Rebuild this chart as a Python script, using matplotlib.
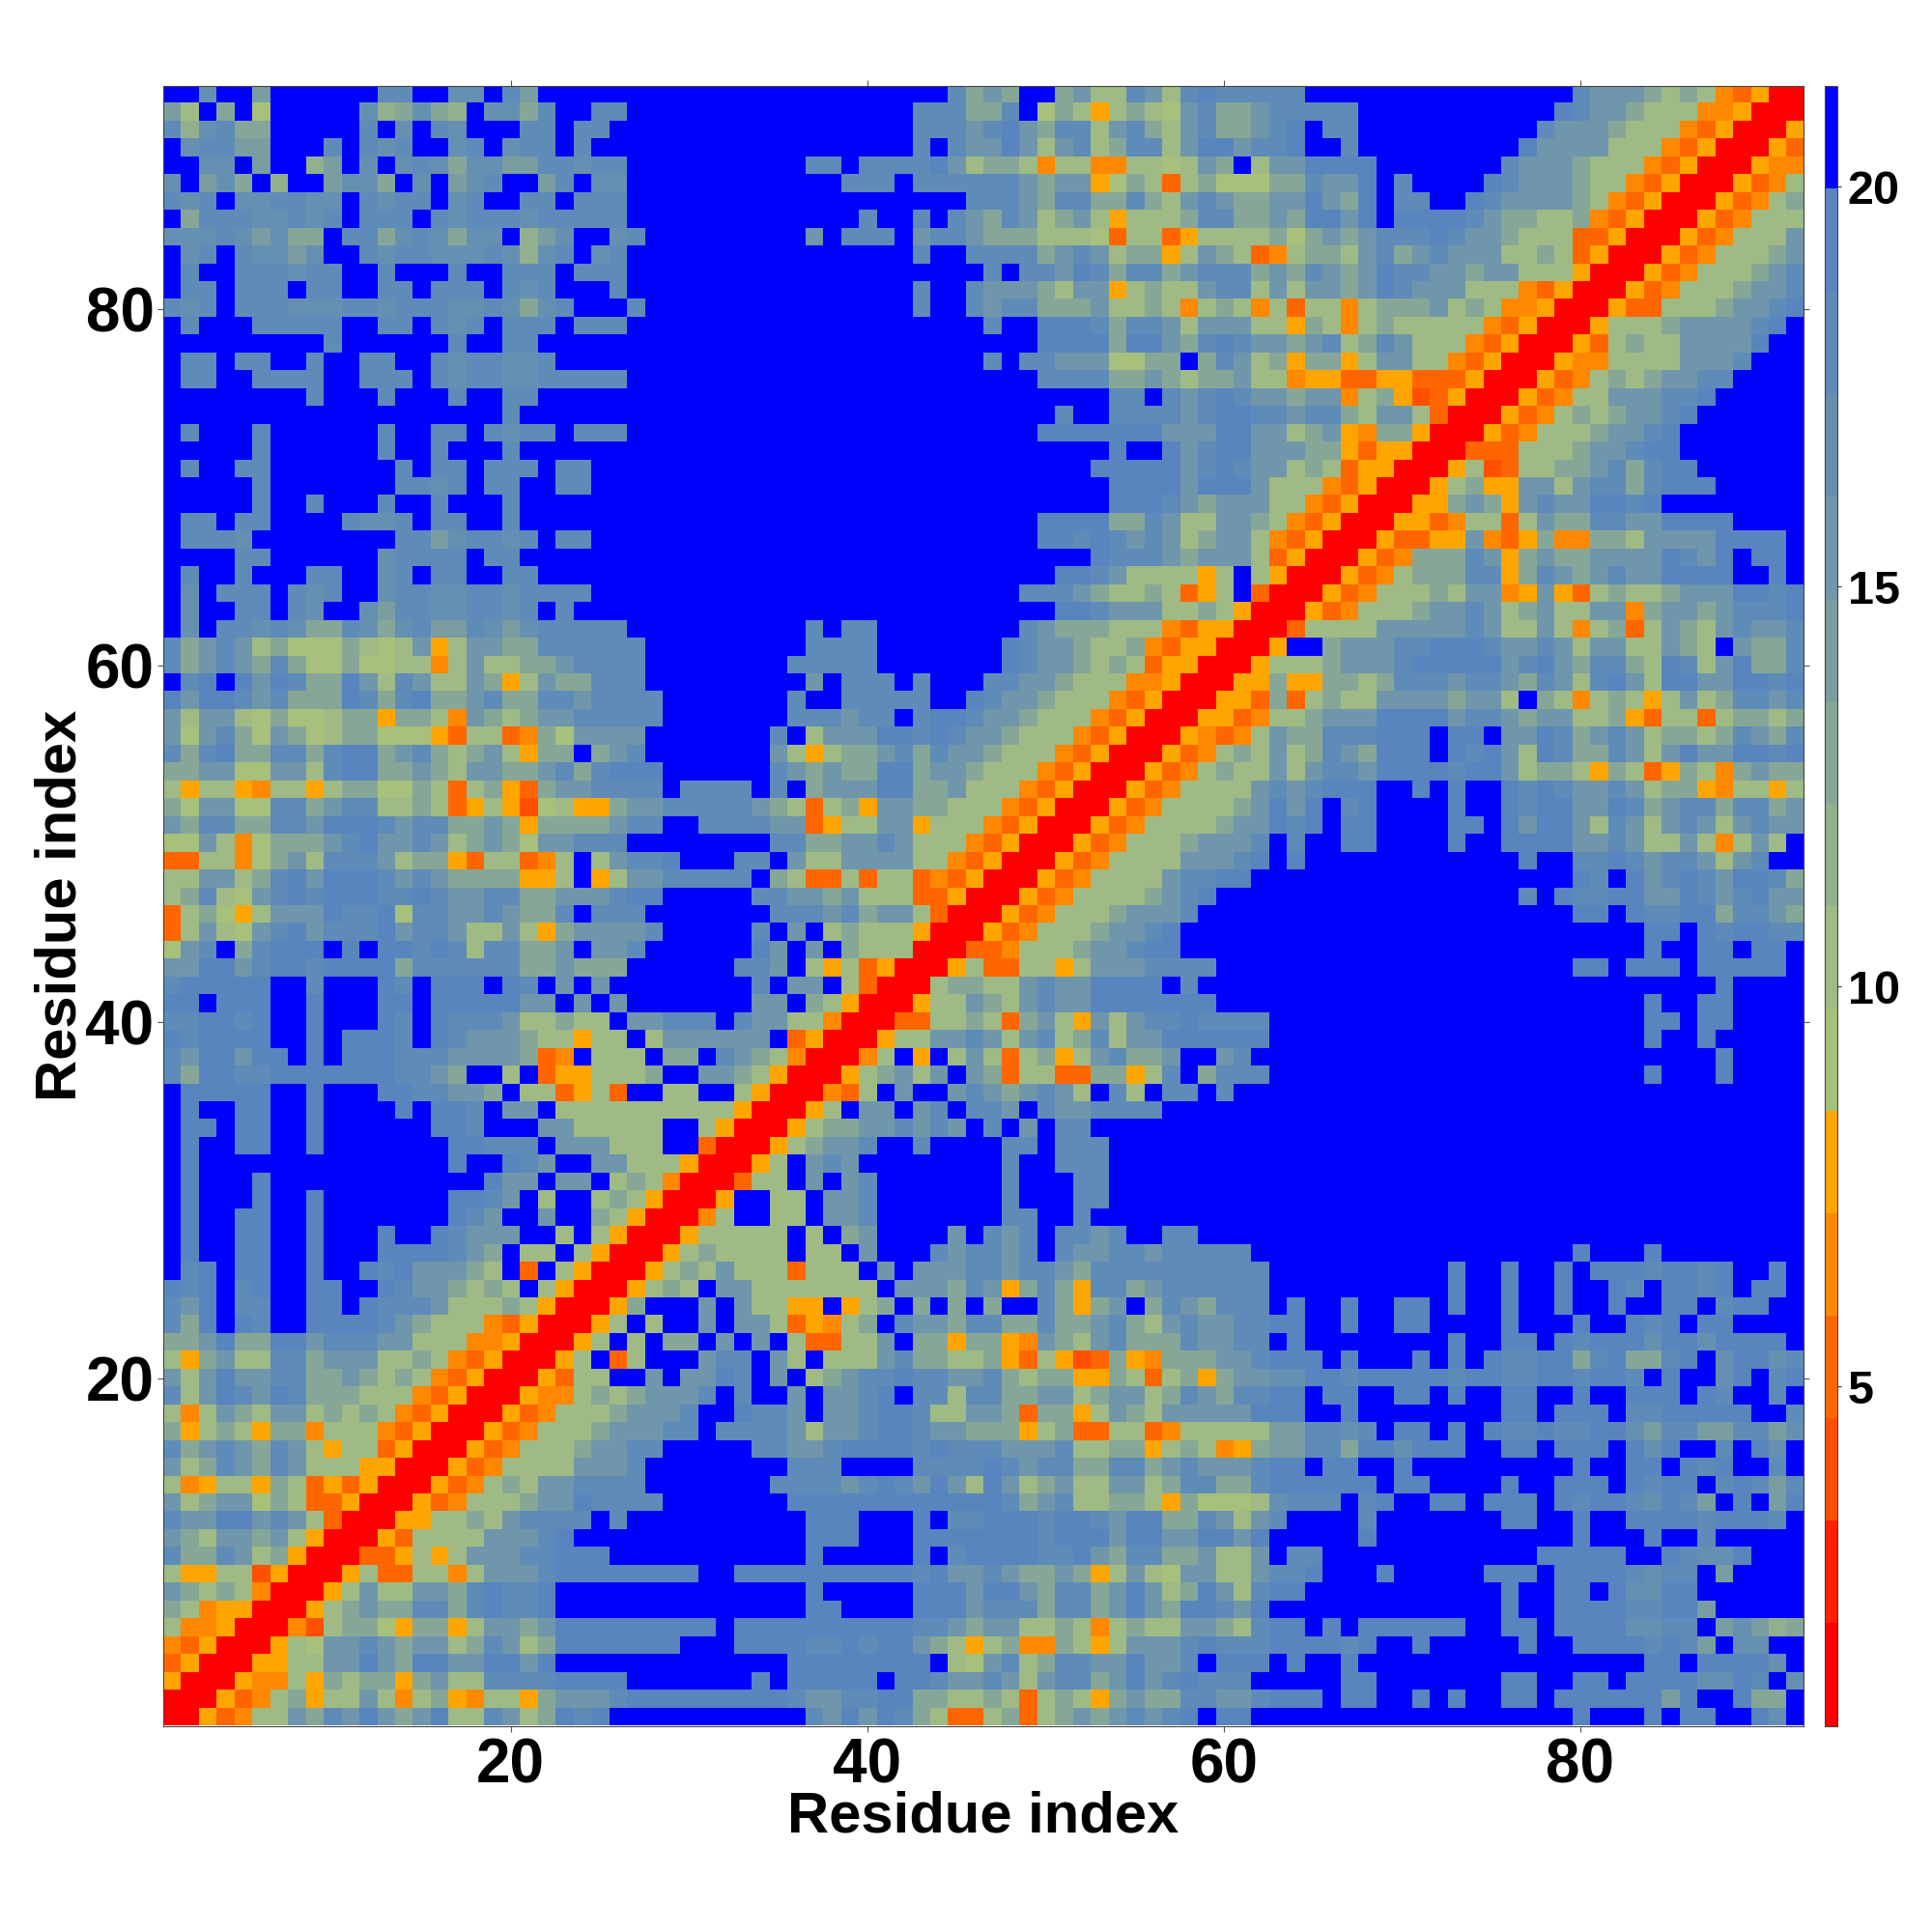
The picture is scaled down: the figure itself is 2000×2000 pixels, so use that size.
import matplotlib
matplotlib.use("Agg")
import matplotlib.pyplot as plt
from matplotlib.colors import ListedColormap, BoundaryNorm
import numpy as np

# Cell codes: 0-5 red to orange, 7-9 and a-e green to steel blue, '.' saturated blue.
top_left = [
"..c..b......dd..cc.db..........",
"b8.a.7.....c9aca9.ccad..dd.....",
"d9cdaa.....d.c.dc...dd.dd......",
".cddbb...d.dcd..cd.cdd.d.......",
"..cc.b..9b.c.cdcaccbbddcdd.....",
"c.bca.9..bcca.c.bcd..bd.cc.....",
"dcd.ccddcc.dcdd.cd..dd.ddd.....",
".adddccdcd.ddd.dcdddcddddd.....",
"cccdcbcaa.ddacdcacc.9bc..cd....",
".cd.dccbc..dcddcccdc9cd.cd.....",
".d..dddcdd..d...d..ddd.ddd.....",
".dd.ddd.dd..dd.ddd.dcd...d.....",
"dcd.dddcccddcdddccdcacd...d....",
".d...ddddd..dd.dcd.ddd.ddd.....",
".........d......d..dd..........",
".dd.dd..d..dd..dcddccd.........",
".dd..dddd..ddd.dcddccddddd.....",
"........d...d...d..dd..........",
"...................d...........",
".d...d......d..dd.dcdd.ddd.....",
".....d......d..d...d...........",
".d..dd.......d.dd.ddd.dd.......",
".....d.......ddcd.dd..dd.......",
".....d..d...d..d...d...........",
".dd.dd....dccd.dd..d...........",
".dddc........ddbcddcd.dd.......",
"....dd......cdddd.dd...........",
".d..d...dd..cd.dd..dd..........",
".c.ddd.dcd..cddccddcdddd.......",
".c..dd.dc..cbddccddcd.d........",
".c.ddcdcaadcacdbbdcbcddddd.....",
]
top_mid = [
".............dbcb..bcaadcadeddd",
"...........dddbbd.8ba5aba9cdbbc",
"...........dddcdecbddacdbacdbbc",
"...........d.dccecacdabddaceecd",
".....dd.ddddecabba4aa44aa9acb.a",
".......ddd.ddddddcbcc59ba3ab999",
"..............dddcbddbbdbacdcbb",
"........d..d.dcbdcabca5aaabddbb",
".....c.ddd.cddcbbbaaa93aa35aaaa",
"...........d..ddddbcdcabb5acba3",
"...............d.ddcedbddbcdddb",
"...........d..dcccbacc5abaacdda",
"...........d..dcddbbbcaaba4aba4",
"...............d..eeedbddcaccca",
"..................eeeebeecbdedc",
"...............d.ddccc99bb.bdca",
"..................ddddbbcbabbca",
"......................dd.dcdedc",
"...................d..ddddcdeed",
"..................eeeeeeeccceec",
"......................e..ecdeec",
".....................eeeeecdedc",
"......................eeeeceeec",
"......................eeedcbccc",
"..................eeeebbdcaaccb",
"..................eededcdcabcca",
".....................edddcbccca",
"...................eedcaaaa5a.a",
".................dddcbaaba35a.3",
"...................eedcccaaba50",
".....d.dd........dcbbbaaa435500",
]
top_right = [
"dd...............dcccbaba43500",
"ddddd...........edccbaaa445000",
"de.dd..........dcccbaaa4350005",
"de..d.........eccccaaa43500053",
"cceeee.......dcccbaaa435000544",
"bbdcce.d....edcccbaa435000534a",
"ccecbe.dd..edccccba435000534ab",
"cbeece.eeeedcbbaab435000534aaa",
"b9bcbcdddedccbaaa335000534aaac",
"4abbacdbcdcccaaba35000534aaabc",
"cbdcbceddccbccaaa5000534aaabcd",
"caccbcedcccaaa435000534aaabccd",
"a3aa4abbbcaba445000533aaabccde",
"a5ba4abaaaaa4350005aaabccccde.",
"cbcdabdcaaa43500053abaacccce..",
"b5bb5accaa435000544aaaacccd...",
"a45533553335000534ababccdd....",
"cbcc4ab5235000534aacccdde.....",
"dcddbacca3000534ababccde......",
"cabc54bb5000534aaabccde.......",
"ccbb5355000333aaabccdee.......",
"caba3550005a23aabbcdbdee......",
"aaa4350005ab55ccacddbdeee.....",
"aa43500055bcb5cdcceede........",
"a4350005534aa3acbbddcceeee....",
"43500053355c435b44bbacccceeee.",
"35000534bbbdc5bcbbccccedce.ee.",
"5000534abbbdd5bdcbcdcceeee..e.",
"000534aaabacc45c53abaabccceede",
"00534aaabccdcabcaacc4bccbcddde",
"03aaaacccccdcaaca4ab3acbacdccd",
]
mid_left = [
"dbcdcab988ba7ac5accbbdddddd....",
"dbcdcbdb88b98aa4acaabbcdddd....",
".de.ecedbbecadcaacb5acbbddd....",
"eceedcdbbbedbdebbcdbbddcdddd...",
"cacca7b87abb5bba4cbabccddddd...",
"c9cdb8cb8abb88953aa34b9cccc....",
"dbdebbddbdeebcdbabca5bb.bcd....",
"bbcc99ccadeebbcbaccbbcdbdeee...",
"a5aa54aa5abb99ba3ab53bccdddd.dd",
"b8cc99ddbcddaaba35a529a55bccddd",
"cbddbbddceeedcddbbcb5bbbbcdd..d",
"99ca48bbbcdeccdcabcb9ccddd.....",
"33aa48bcadddcabb53aa34a.acdde..",
"aaccabdeceeedcdcbbbb55a.5accddd",
"abda9cdedeeeddedccddbbcccdee...",
"3ab85acccedde8ddccdcbbd.ddd....",
"3aca9cdecdddecddcaaca5bccccd...",
"9cd.bdeee.e.eededaddbbc.ccd....",
"cceecdeedeeeebddddddbbcbbb.....",
"deeeee..d...ed.eee.ed.c.c......",
"ee.eee..e...ee.eeeeecc.c.c.....",
"ddeede..e...ed.edddcaabaa.ccddd",
"edeeee..e.eeed.edcccbaa5aa.accc",
"dceecee.e.eeedddccccb34.aaa.bb.",
"dbeeddeeeeeeeddcb..a.355aaab..c",
".eeeee..e...eeddccb.aa35a3..aa.",
".e..ee..e....e.eed.cc.aaaaaaaaa",
".ee.ee..e......eed...ccaaaaa..a",
".e..ee..e.......eeddd.cccaaa..3",
".e..............e..edc..ccaaa50",
".e...e............ecc.cc.aba400",
]
mid_mid = [
".....dddd.......edccbaab4355000",
"....ddddd.......edccbaba3550005",
".....c.ddd.d...ddccbaaa44500055",
"....d..ddddd..edccbaaa435000553",
"....dddcdd.deedccbaaa4350005534",
"...d.accceededccbaaa4350005434a",
"...ca5abbcdbdccbaaa435000534aba",
"...dcbcbbeebccbaaa435000534abaa",
"dd.d.bccceebbcaaa435000534aaaac",
"ddcba3ab5ccbbaaa435000534aaaabc",
"dddcc35aacc5aaa435000534aaaabcc",
"...ddbbccdcaaa435000534aaabcccd",
".dd.caaccccaa435000534aaaacccde",
"dd.ba33a3aa3435000534aaaacddee.",
"..ddccbcaaa335000534aaaabcde...",
"...dddcdbcca3000534aaabcccd....",
"..d.c.abaaa5000534aaabccde.....",
"..ec.c.baaa000334aaabccdee.....",
".ddc.a5a350005a33aa5acccdddd...",
"..d.cc.a3000abbaacdcceeee.d....",
"..cc.ba50005aacbacdcceeeeeee...",
".dccaa400033aaba3bca5cacddedddd",
"ccc.350005aaccdcacdabdacceeeeee",
"dcba40004a.5.aca3ab5acdbbc..cd.",
"cba50005abcac.cb3aa33bb5ad.bddd",
".a500043a.c..cdcbcdca.da.dd.d..",
"a50005a.cc.cd.ddc.dccdddd......",
"50005abbccdcdc.d.c.dd..........",
"0005abccd..d....dd.ddd.........",
"005a.cdc........d..ddd.........",
"03aa.c.cd.......d...dd.........",
]
mid_right = [
"5..bcccddeeedccdcaccaacba.cbbd",
"aaabcccdeeeeecdecbddbaedacebbd",
"b55bbabdddcddcbdcadecaeecceede",
"b3abaaccccbcca.ba4aba5acabddcd",
"aabccceeeecddcbccaab53aa3abbab",
"cbbdddeee.ee.ccedbcdcabbabdcbd",
"cabdcbeee.edecaedbbdcacecceede",
"cacddceeeedeecabba5ba35ba4bcbb",
"dcdeee..e.e..ededccdcabb54aa5a",
"ece.de....e..edeeccedbcddbddbc",
"ede.ee....ee.eceecadcacdcacdcc",
".d..ee....e..eeeeccdcaaca4aca.",
".e............e..ddedcddcacd..",
".................ed.ecdedceedb",
"..............d.eddeeccedcdecc",
".................ee.eddeebddcb",
".....................ee.edeedd",
".....................e..ee.ee.",
".................ee.eee.eeeee.",
".........................e....",
".....................e..ee....",
".....................ee.ee....",
".....................e..e.....",
".........................e....",
".....................e...e....",
"..............................",
"..............................",
"..............................",
"..............................",
"..............................",
"..............................",
]
bot_left = [
".e...e..e.......eedc.a..aba5000",
".e..ee..e.......edc..c..ba50004",
".e..ee..e...e..edccc..a.a50005a",
".e..ee..e...eeeedcb.aa.a50005ab",
".de.ee..e..edecccba.3.a50005aba",
"ede.de..ee..edccbaba.a50005aba.",
"dce.dd..ee.edddcaaaba50005b...c",
"dbe.ed..eeeedcbaaa4350005a.a..c",
"bbcebbeecdddccaaa4450005a.a.bb.",
"a5bcaaddbcccaaba4350005a.3a...c",
"caceccddbbcbaba43500053aa..c.cc",
"dacedcedbbbaaa435000544ababcccd",
"a4acbaccababa435000534aaabcccd.",
"b5aba5bb4aaa435000534aaabcccdd.",
"dbcdcbdca5aa35000534aaabccdd...",
"cabdcbdcaaa55000534aaaacccd....",
"a45aa5ba3535000534abaccdddd....",
"cabcc9ba335000534aaabccedddd...",
"dcceecdca300055aabacdddd.d.....",
"cbaccbca500053aaaacccde........",
"dbbdcab5000335a5acccddeee......",
"a55aa250005a33aa4acccdeeeeeeee.",
"cbaba40005acaaccbdedde.........",
"ba4550005abcbbddbdedde.........",
"a44500042abb95bb5accbceeeeeeeee",
"4350005a9ccdcbccabdcabeeeeeee..",
"3500055aaccecbeecceece.........",
"5000544a5babb5bcaaddddeeee.....",
"000534ab5aaca4ab54aa5bcccdeeeee",
"00534aacbdcecbceaadcabede......",
]
bot_mid = [
"5..aa.ccd.......d...dd.........",
"a..aa.ccd.......dd..d..........",
"aaaa.a.bc....c.dcd.ddcd..dd....",
"aaaa.aa.c...dcddcd.dccddcddddd.",
"caaa3aaa.c.cccddcddcbdddddddddd",
"ccaaaaaaa.cccbdc5bdb5ddbcdddddd",
".caa55.5ab.b.b.b..db5bc.bdcbddd",
".cca354ab.dccbddbbdbbcdbacdccdd",
"c.c.a33aac.bb5bb54cbacdbbbdccdd",
"dd.ca.aaacdbbaab53a523b54bbbccd",
"ed.c.abcddeddccdbabb55ba3ab5bcc",
".d..c.ccde.ddaddbbccabccabdcbdd",
".eddc.ccdeedaaccb3bb5acbaccccce",
"ddddcaccdeedccbbb5ab33aa34aaaaa",
"..ddccdeeeededddcccdaabb5aba45b",
"....ddd....ddddedcddbbddbcdcccd",
"...ddddcdedcecaecabcaaccabddbbd",
"....eeeeeeeeeeeedbcdaabba5b999a",
".....eee...e.ddeeedeedceebbdcac",
".....eee...eeeeeeedeeeceecceece",
".....e.....e.deeeeddecbddbbcaac",
".eeeeeeeeeedeccdcbbcb5aca9ccaac",
".....e.....eeeceecbddbcecabecad",
".....ee....eeecdddbddbcecbeedce",
".eeeeeeeeeeddcbccaaba4abaaccbad",
".eeeeddedeecba5ab44ba5acccdeddd",
"....eeeeeeee.a9cdabddcceccd.eee",
"..e.eeeee.eedccdcacddbcecdeddd.",
"eeeedccddeebbaaba3aba5bcbbddccd",
".....dcecedba33ab3abcbcdcde.ee.",
]
bot_right = [
"..............................",
"..............................",
"..............................",
".................e...e........",
"..........e..e..e.eeedeede..e.",
"..........e..e..e..ed.eede.ee.",
".e..e..ee.e..e..e..e..ee.dee..",
"ee..e..ee....e...e..ede.ee....",
".e........e..ee.edeeeceeceeee.",
"eee.e...e.e.eddeeadeaade.ceecd",
"cceedeeeeedeeddeedeed.e..ce.de",
"ee.ee..ee.e..ee..e..eee.ed..d.",
"ee..e........ee.eee.ddeeeee..d",
"bbddcd.ee.e.eddeddeecbddbbddbc",
"bbddaeeceee..ee.eee.ece..d.ec.",
"ee.ee..e.........e..ee.ede..d.",
"eeeeee.ee....e..eee.edee.dedbd",
"cddd.de..ee.eee.edeedcedb.e.be",
"d....d.......ee..e..eeeedeeed.",
".....e...........e...e..d.....",
".dd............eeeee..edcce...",
"dde...e.....eee.eeeedcdd.b....",
"ee...........e..ee.eccee......",
".............e..eeeeddeeb.....",
"ee.e.eeeeee..ee.eeeeccdd.bcb9a",
"eeeede..e.....e..eeeededb.cc..",
".e..e................ee.eeeec.",
"....ee.......ee..ee.eeeecced.c",
"eee.ee..e.e..ee.eeeeeebe..eaa.",
".................e...e.ee..ec.",
]

# Shade read for each code; the far corners were read on a bluer scale.
code_level = {'0':0,'1':1,'2':2,'3':3,'4':4,'5':5,'7':6,'8':6,'9':6,
              'a':7,'b':9,'c':11,'d':13,'e':14,'.':15}
corner_code_level = dict(code_level, **{'8':7, '9':8, 'a':9, 'b':10, 'c':12})
level_colors = ['#ff0000','#ff2000','#ff4f00','#ff6600','#ff8800','#ffa500',
                '#a7c07c','#9fba85','#93b08e','#86a798','#7a9da2','#6f96ab',
                '#6690b2','#5f8bb8','#5885bd','#0000ff']
bar_ticks = [5, 10, 15, 20]
axis_ticks = [20, 40, 60, 80]
axis_label = 'Residue index'
v_start, v_step = 0.76, 1.281

bounds = np.array([v_start + v_step * k for k in range(17)])
def cell_values(block, table):
    return np.array([[bounds[table[ch]] + v_step / 2 for ch in r] for r in block])

grid = [[(top_left, corner_code_level), (top_mid, code_level), (top_right, code_level)],
        [(mid_left, code_level), (mid_mid, code_level), (mid_right, code_level)],
        [(bot_left, code_level), (bot_mid, code_level), (bot_right, corner_code_level)]]
values = np.block([[cell_values(b, t) for b, t in line] for line in grid])
assert values.shape == (92, 92), values.shape
cmap = ListedColormap(level_colors)
norm = BoundaryNorm(bounds, cmap.N)

plt.rcParams['font.family'] = ['Liberation Sans', 'DejaVu Sans']
plt.rcParams['font.weight'] = 'bold'
W = 2000.0
fig = plt.figure(figsize=(20, 20), dpi=100, facecolor='white')
ax = fig.add_axes([168.6 / W, 1 - 1786.5 / W, 1698 / W, 1697.1 / W])
im = ax.imshow(values, origin='upper', extent=(0.5, 92.5, 0.5, 92.5),
               cmap=cmap, norm=norm, interpolation='nearest', aspect='auto')
ax.set_xticks(axis_ticks)
ax.set_yticks(axis_ticks)
ax.tick_params(axis='both', which='major', length=4.5, width=0.8, color='#555555',
               labelsize=46, top=True, right=True)
ax.tick_params(axis='x', pad=4)
ax.tick_params(axis='y', pad=2)
for s in ax.spines.values():
    s.set_linewidth(0.8)
    s.set_color('#444444')
fig.text(1018 / W, 1 - 1881 / W, axis_label, fontsize=43, fontweight='bold', ha='center', va='center')
fig.text(63 / W, 1 - 937 / W, axis_label, fontsize=43, fontweight='bold', rotation=90, ha='center', va='center')

cax = fig.add_axes([1889 / W, 1 - 1786.5 / W, 12.7 / W, 1697.1 / W])
cb = fig.colorbar(im, cax=cax, ticks=bar_ticks, spacing='proportional', drawedges=False)
cb.ax.minorticks_off()
cb.ax.set_yticklabels([str(t) for t in bar_ticks], fontsize=35, fontweight='bold')
cb.ax.tick_params(length=3, width=0.8, color='#333333', pad=5)
cb.outline.set_linewidth(0.8)
cb.outline.set_edgecolor('#444444')
fig.savefig('out.png', dpi=100, facecolor='white')
